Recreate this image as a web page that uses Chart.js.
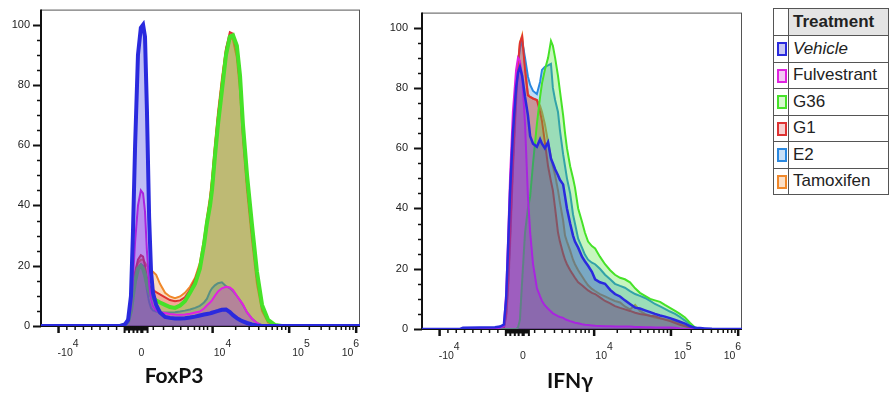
<!DOCTYPE html>
<html>
<head>
<meta charset="utf-8">
<script src="https://cdn.jsdelivr.net/npm/chart.js@4.4.1/dist/chart.umd.min.js"></script>
<style>
  html, body { margin: 0; padding: 0; background: #fff; }
  body { width: 889px; height: 395px; position: relative; overflow: hidden; font-family: "Liberation Sans", Arial, sans-serif; }
  #foxp3 { position: absolute; left: 0; top: 0; }
  #ifng { position: absolute; left: 375px; top: 0; }
  .axisTitle { position: absolute; transform: translateX(-50%); font-family: Lato, "Open Sans", sans-serif; font-weight: bold; font-size: 21px; line-height: 25px; color: #111; white-space: nowrap; }
  #legend { position: absolute; left: 773px; top: 8px; border-collapse: collapse; border: 1px solid #333; font-size: 17px; color: #222; }
  #legend td, #legend th { border: 1px solid #555; padding: 0 0 0 4px; height: 25.5px; text-align: left; white-space: nowrap; }
  #legend th { height: 26px; }
  #legend .sw { width: 14px; padding: 0 0 0 3px; }
  #legend th.name { background: #e4e4e4; font-weight: bold; width: 130px; }
  #legend .box { display: inline-block; width: 6px; height: 10px; border: 2px solid; vertical-align: middle; }
</style>
</head>
<body>
<canvas id="foxp3" width="372" height="370"></canvas>
<canvas id="ifng" width="385" height="370"></canvas>
<div class="axisTitle" style="left:174px; top:362px;">FoxP3</div>
<div class="axisTitle" style="left:570px; top:367px;">IFNγ</div>
<table id="legend"></table>

<script>
// treatments, in legend order (first one is drawn on top)
var treatments = ['Vehicle', 'Fulvestrant', 'G36', 'G1', 'E2', 'Tamoxifen'];
var lineColors = ['42,42,222', '224,34,224', '70,226,40', '222,50,50', '42,136,224', '240,136,42'];
var swatchFills = ['#c8c8f4', '#f4c8f4', '#d8f8d0', '#f8d0d0', '#c8e0f8', '#fbe0c8'];

// x axis: channel position on the biexponential scale (0-1000)
var tickChannels = [55, 315, 538, 778, 988];
var tickLabelChannels = [85, 315, 569, 815, 970];
var tickLabelBases = ['-10', '0', '10', '10', '10'];
var tickLabelExps = ['4', '', '4', '5', '6'];
var linearMinorChannels = [81, 107, 133, 159, 185, 211, 237];
var lowMinorChannels = [352, 384, 414, 438, 461, 481, 497, 510, 522];

// FoxP3 histograms (% of max)
var foxp3Channels = [0, 185, 248, 263, 273, 282, 288, 295, 304, 313,
  320, 326, 332, 339, 345, 351, 361, 373, 389, 404,
  420, 436, 451, 467, 483, 498, 511, 520, 530, 536,
  545, 555, 567, 580, 592, 602, 614, 624, 633, 646,
  661, 677, 693, 712, 734, 755, 781, 1000];
var foxp3Vehicle = [0, 0, 0, 0.5, 2, 10, 30, 60, 90, 99,
  100, 96, 72, 36, 18, 11, 7, 4.5, 3, 2.7,
  2.5, 2.5, 2.6, 2.8, 3.1, 3.5, 3.8, 4, 4.2, 4.4,
  4.7, 5, 5.4, 5.5, 4.6, 3.6, 2.6, 2, 1.5, 1,
  0.5, 0.2, 0, 0, 0, 0, 0, 0];
var foxp3Fulvestrant = [0, 0, 0, 0.3, 1.5, 6, 15, 28, 40, 45,
  44, 38, 25, 14, 9, 6.5, 5.2, 4.6, 4.3, 4,
  3.8, 3.7, 3.8, 4.1, 4.5, 4.8, 5.8, 6.8, 7.8, 8.5,
  10, 11.5, 12.5, 13, 12.8, 12, 10, 8.5, 7.2, 4.5,
  2.5, 1, 0.2, 0, 0, 0, 0, 0];
var foxp3G36 = [0, 0, 0, 0.3, 1.5, 5, 10, 15, 19, 20,
  19, 17, 14, 11.5, 10, 9.2, 8.5, 7.8, 7, 6.3,
  6, 6.8, 8.2, 11, 14, 19, 27, 34, 40, 45,
  56, 67, 78, 90, 96, 96.5, 93, 83, 67, 50,
  34, 18, 7, 2, 0.3, 0, 0, 0];
var foxp3G1 = [0, 0, 0, 0.3, 1.5, 6, 12, 18, 22, 23.5,
  23, 20, 16, 13.5, 12.5, 12, 11.2, 10.5, 9.5, 8.6,
  8.2, 8.5, 9.5, 12, 15.5, 20, 28, 35, 42, 48,
  59, 70, 81, 92, 97.5, 97, 91, 80, 64, 47,
  31, 16, 6, 1.5, 0.2, 0, 0, 0];
var foxp3E2 = [0, 0, 0, 0.3, 1.5, 5, 10, 15, 19, 20.5,
  20, 17, 12, 8, 6, 5.2, 4.8, 4.6, 4.5, 4.5,
  4.6, 4.8, 5.1, 5.5, 6, 6.7, 7.8, 9, 11.5, 12.5,
  13.5, 14.2, 14.5, 13.2, 12.5, 11.5, 10, 8.5, 7, 4.5,
  2.5, 1, 0.2, 0, 0, 0, 0, 0];
var foxp3Tamoxifen = [0, 0, 0, 0.3, 1.5, 6, 12, 17, 21, 22,
  22, 21, 20, 19, 18.5, 18, 17, 14, 11, 9.8,
  9.2, 9.8, 11, 13, 16, 21, 29, 36, 43, 49,
  60, 71, 82, 92, 96, 95, 89, 78, 62, 45,
  29, 14, 5, 1.2, 0.2, 0, 0, 0];

// IFNg histograms (% of max)
var ifngChannels = [0, 119, 128, 181, 228, 244, 256, 263, 269, 275,
  284, 294, 300, 306, 313, 322, 331, 338, 347, 359,
  369, 375, 384, 394, 403, 409, 416, 425, 431, 441,
  447, 453, 463, 472, 478, 488, 500, 509, 519, 531,
  541, 556, 572, 588, 603, 619, 634, 650, 666, 681,
  697, 713, 728, 744, 759, 775, 791, 806, 822, 838,
  853, 869, 884, 906, 1000];
var ifngVehicle = [0, 0, 0.4, 0.5, 0.6, 0.8, 1.5, 10, 27, 45,
  65, 80, 85, 87, 84, 77, 71, 64, 61.5, 60.5,
  63, 61.5, 60, 62, 56.5, 55, 53, 51, 49.5, 48,
  44, 40, 35, 31, 29, 27, 24, 22.5, 21, 19,
  16.5, 15.5, 15, 13, 11.6, 10.8, 9.5, 8.3, 7.1, 6.8,
  6.2, 5.6, 5, 4.5, 4.1, 3.6, 3, 2.4, 1.8, 0.9,
  0.4, 0.3, 0.2, 0.1, 0];
var ifngFulvestrant = [0, 0, 0, 0, 0.2, 0.4, 1, 12, 30, 50,
  72, 86, 90, 89, 84, 68, 44, 32, 21.5, 13.6,
  10.8, 9.3, 7.8, 6.7, 5.8, 5.2, 4.8, 4.3, 4, 3.7,
  3.3, 3, 2.6, 2.3, 2.1, 1.9, 1.6, 1.4, 1.3, 1.2,
  1.1, 1, 0.9, 0.9, 0.8, 0.8, 0.8, 0.8, 0.7, 0.7,
  0.6, 0.6, 0.5, 0.5, 0.5, 0.5, 0.4, 0.2, 0, 0,
  0, 0, 0, 0, 0];
var ifngG36 = [0, 0, 0, 0, 0, 0, 0, 0, 0, 0,
  0, 0, 0.5, 3, 16, 32, 40, 44, 55, 68,
  77, 81.5, 86, 90, 95.6, 94, 90, 84, 79, 71,
  65, 60, 54, 50, 47, 40, 35.6, 32, 29, 27.5,
  26.7, 24, 21.5, 19.5, 18, 17, 16.5, 15.5, 13.5, 12,
  11, 10, 9.5, 9, 8, 7, 6, 5, 3.8, 2,
  0.5, 0.1, 0, 0, 0];
var ifngG1 = [0, 0, 0, 0, 0, 0, 0.5, 5, 15, 30,
  55, 78, 88, 95, 97, 86, 77.5, 77, 76.5, 76,
  72, 69, 62, 54, 49, 46, 40, 32, 29, 25,
  23, 21.5, 19.5, 18, 17, 15.5, 14.5, 13.7, 12.8, 12,
  11.6, 10.5, 9.3, 8.5, 7.6, 7, 6.5, 6, 5.4, 5,
  4.7, 4.4, 4.2, 3.6, 3.1, 2.6, 2, 1.4, 0.9, 0.6,
  0.3, 0.1, 0, 0, 0];
var ifngE2 = [0, 0, 0, 0, 0, 0, 0.5, 5, 15, 30,
  55, 78, 88, 93, 95.6, 90, 83.8, 81, 79, 78,
  82, 86, 87, 87.5, 88, 80, 76, 72, 66, 58,
  54, 50, 45, 38, 35, 30, 27, 24.7, 23, 22,
  21.5, 20, 18, 16.5, 15, 14.3, 13.7, 12.6, 11.6, 11,
  10.3, 9.3, 8.3, 7.5, 6.7, 5.8, 5, 4, 2.8, 1.5,
  0.5, 0.1, 0, 0, 0];
var ifngTamoxifen = [0, 0, 0, 0, 0, 0, 0.4, 4, 13, 27,
  52, 75, 87, 95, 97.5, 87, 78, 77, 76.5, 76,
  74, 72, 68, 62, 57, 54, 51, 46, 42, 36,
  31, 29, 26, 23, 21.5, 19.5, 17.5, 16, 14.5, 13.3,
  12.6, 11.6, 10.8, 10, 9.3, 8.8, 7.5, 6.5, 8, 6,
  5, 4.3, 3.8, 3.5, 3.2, 2.9, 2.5, 1.8, 1.1, 0.6,
  0.2, 0, 0, 0, 0];

// minor ticks on the log decades
var minorChannels = linearMinorChannels.concat(lowMinorChannels);
[[538, 778], [778, 988]].forEach(function(d) {
  for (var k = 2; k <= 9; k++) minorChannels.push(d[0] + (d[1] - d[0]) * Math.log10(k));
});

var axisDecor = {
  id: 'axisDecor',
  beforeDatasetsDraw: function(chart) {
    var ctx = chart.ctx, a = chart.chartArea;
    ctx.save();
    ctx.strokeStyle = '#555';
    ctx.lineWidth = 1;
    ctx.strokeRect(a.left + 0.5, a.top + 0.5, a.right - a.left - 1, a.bottom - a.top);
    ctx.strokeStyle = '#111';
    ctx.lineWidth = 2;
    ctx.beginPath();
    ctx.moveTo(a.left, a.top);
    ctx.lineTo(a.left, a.bottom);
    ctx.lineTo(a.right, a.bottom);
    ctx.stroke();
    ctx.restore();
  },
  afterDraw: function(chart) {
    var ctx = chart.ctx, a = chart.chartArea;
    var xs = chart.scales.x, ys = chart.scales.y;
    ctx.save();
    ctx.strokeStyle = '#111';
    // y ticks
    for (var v = 0; v <= 100; v += 5) {
      var y = Math.round(ys.getPixelForValue(v)) + 0.5;
      var major = v % 20 === 0;
      ctx.lineWidth = major ? 2 : 1.5;
      ctx.beginPath();
      ctx.moveTo(a.left - (major ? 8 : 4), y);
      ctx.lineTo(a.left, y);
      ctx.stroke();
    }
    // x ticks
    ctx.lineWidth = 2.5;
    tickChannels.forEach(function(c) {
      var x = xs.getPixelForValue(c);
      ctx.beginPath(); ctx.moveTo(x, a.bottom); ctx.lineTo(x, a.bottom + 7); ctx.stroke();
    });
    ctx.lineWidth = 1.5;
    minorChannels.forEach(function(c) {
      var x = xs.getPixelForValue(c);
      ctx.beginPath(); ctx.moveTo(x, a.bottom); ctx.lineTo(x, a.bottom + 4); ctx.stroke();
    });
    // dense ticks around zero
    ctx.fillStyle = '#111';
    var zl = xs.getPixelForValue(262), zr = xs.getPixelForValue(334);
    ctx.fillRect(zl, a.bottom, zr - zl, 4.5);
    ctx.lineWidth = 2;
    [262, 276, 290, 302, 318, 334].forEach(function(c) {
      var x0 = xs.getPixelForValue(c);
      ctx.beginPath(); ctx.moveTo(x0, a.bottom); ctx.lineTo(x0, a.bottom + 7); ctx.stroke();
    });
    // tick labels: base plus raised exponent
    ctx.fillStyle = '#2a2a2a';
    ctx.textBaseline = 'alphabetic';
    var baseFont = '10.5px "Liberation Sans", Arial, sans-serif';
    tickLabelChannels.forEach(function(c, i) {
      var cx = xs.getPixelForValue(c);
      ctx.font = baseFont;
      var wb = ctx.measureText(tickLabelBases[i]).width;
      var we = tickLabelExps[i] ? ctx.measureText(tickLabelExps[i]).width : 0;
      var x0 = cx - (wb + we) / 2;
      ctx.textAlign = 'left';
      ctx.fillText(tickLabelBases[i], x0, a.bottom + 29.5);
      if (tickLabelExps[i]) ctx.fillText(tickLabelExps[i], x0 + wb, a.bottom + 20.5);
    });
    ctx.restore();
  }
};

function makeDatasets(xs, seriesList, widths) {
  return treatments.map(function(name, i) {
    return {
      label: name,
      data: xs.map(function(x, j) { return { x: x, y: seriesList[i][j] }; }),
      borderColor: 'rgb(' + lineColors[i] + ')',
      backgroundColor: 'rgba(' + lineColors[i] + ',0.3)',
      borderWidth: widths[i],
      fill: 'origin',
      pointRadius: 0,
      tension: 0
    };
  });
}

function makeChart(id, xs, seriesList, widths, yWidth, xHeight, rightPad, yPad) {
  var tickFont = { family: '"Liberation Sans", Arial, sans-serif', size: 11 };
  return new Chart(document.getElementById(id), {
    type: 'line',
    data: { datasets: makeDatasets(xs, seriesList, widths) },
    options: {
      responsive: false,
      animation: false,
      layout: { padding: { top: 8, right: rightPad, left: 0, bottom: 0 } },
      plugins: { legend: { display: false }, tooltip: { enabled: false } },
      scales: {
        x: {
          type: 'linear', min: 0, max: 1000,
          afterBuildTicks: function(scale) { scale.ticks = tickChannels.map(function(c) { return { value: c }; }); },
          afterFit: function(scale) { scale.height = xHeight; },
          grid: { display: false },
          border: { display: false },
          ticks: { display: false }
        },
        y: {
          min: 0, max: 105,
          afterBuildTicks: function(scale) { scale.ticks = [0, 20, 40, 60, 80, 100].map(function(v) { return { value: v }; }); },
          afterFit: function(scale) { scale.width = yWidth; },
          grid: { display: false, tickLength: 8 },
          border: { display: false },
          ticks: { padding: yPad, color: '#222', font: tickFont }
        }
      }
    },
    plugins: [axisDecor]
  });
}

makeChart('foxp3', foxp3Channels,
  [foxp3Vehicle, foxp3Fulvestrant, foxp3G36, foxp3G1, foxp3E2, foxp3Tamoxifen],
  [4, 2, 4, 2, 2, 2], 41, 44, 12, 3);
makeChart('ifng', ifngChannels,
  [ifngVehicle, ifngFulvestrant, ifngG36, ifngG1, ifngE2, ifngTamoxifen],
  [2.5, 2, 2, 2, 2, 2], 47, 41, 18, 6);

// legend table
var table = document.getElementById('legend');
var html = '<tr><th class="sw"></th><th class="name">Treatment</th></tr>';
treatments.forEach(function(name, i) {
  var label = i === 0 ? '<i>' + name + '</i>' : name;
  html += '<tr><td class="sw"><span class="box" style="border-color:rgb(' + lineColors[i] + ');background:' + swatchFills[i] + '"></span></td><td>' + label + '</td></tr>';
});
table.innerHTML = html;
</script>
</body>
</html>
